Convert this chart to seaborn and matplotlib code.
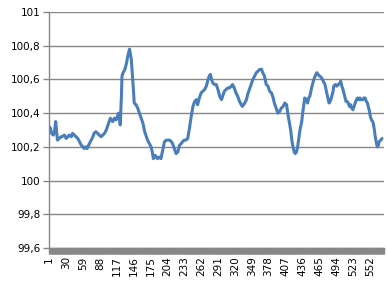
import matplotlib
matplotlib.use("Agg")
import matplotlib.pyplot as plt
import seaborn as sns
import pandas as pd

# category index (1-based) and value
idx = [1, 3, 5, 8, 10, 12, 14, 15, 18, 21, 23, 27, 30, 33, 35, 39, 41, 44, 47, 50,
       53, 56, 59, 61, 64, 66, 70, 73, 76, 78, 81, 84, 87, 90, 93, 96, 99, 101, 104, 106,
       108, 110, 113, 116, 118, 120, 122, 123, 125, 126, 128, 131, 134, 136, 139, 140, 142, 144, 146, 147,
       150, 153, 156, 159, 162, 165, 167, 170, 173, 176, 178, 180, 183, 185, 187, 190, 193, 196, 199, 202,
       205, 208, 211, 213, 216, 219, 222, 225, 228, 230, 233, 236, 239, 242, 245, 248, 251, 254, 256, 259,
       262, 265, 268, 271, 274, 276, 278, 280, 282, 285, 288, 291, 294, 297, 299, 302, 305, 308, 311, 314,
       316, 319, 322, 325, 328, 331, 333, 337, 340, 342, 345, 348, 351, 354, 357, 360, 363, 366, 368, 371,
       374, 377, 380, 383, 386, 388, 391, 394, 397, 400, 403, 406, 409, 411, 414, 416, 418, 420, 422, 424,
       426, 428, 430, 432, 435, 437, 439, 440, 443, 445, 447, 449, 452, 455, 458, 461, 463, 466, 469, 472,
       475, 478, 480, 482, 484, 486, 489, 490, 493, 495, 498, 501, 502, 504, 506, 509, 511, 513, 515, 517,
       519, 521, 523, 525, 527, 529, 531, 533, 535, 537, 540, 542, 544, 546, 548, 550, 551, 553, 555, 557,
       558, 560, 561, 563, 565, 567, 568, 571, 573]
val = [100.32, 100.31, 100.28, 100.27, 100.29, 100.35, 100.28, 100.24, 100.25, 100.26, 100.26, 100.27, 100.25, 100.26, 100.27, 100.26, 100.28, 100.27, 100.26, 100.25,
       100.23, 100.21, 100.20, 100.19, 100.20, 100.19, 100.22, 100.24, 100.26, 100.28, 100.29, 100.28, 100.27, 100.26, 100.27, 100.28, 100.30, 100.32, 100.35, 100.37,
       100.36, 100.35, 100.37, 100.36, 100.38, 100.40, 100.36, 100.33, 100.50, 100.62, 100.64, 100.66, 100.70, 100.74, 100.78, 100.76, 100.72, 100.62, 100.52, 100.46,
       100.45, 100.43, 100.40, 100.37, 100.34, 100.29, 100.27, 100.24, 100.22, 100.20, 100.17, 100.13, 100.15, 100.14, 100.13, 100.14, 100.13, 100.18, 100.23, 100.24,
       100.24, 100.24, 100.23, 100.22, 100.19, 100.16, 100.17, 100.21, 100.22, 100.23, 100.24, 100.24, 100.25, 100.31, 100.38, 100.44, 100.47, 100.48, 100.45, 100.49,
       100.52, 100.53, 100.54, 100.56, 100.60, 100.62, 100.63, 100.60, 100.58, 100.57, 100.57, 100.54, 100.50, 100.48, 100.50, 100.53, 100.54, 100.55, 100.55, 100.56,
       100.57, 100.55, 100.52, 100.50, 100.47, 100.45, 100.44, 100.46, 100.48, 100.51, 100.54, 100.57, 100.60, 100.62, 100.64, 100.65, 100.66, 100.66, 100.64, 100.62,
       100.57, 100.56, 100.53, 100.52, 100.49, 100.46, 100.43, 100.40, 100.41, 100.43, 100.44, 100.46, 100.45, 100.40, 100.34, 100.30, 100.24, 100.20, 100.17, 100.16,
       100.17, 100.20, 100.25, 100.30, 100.35, 100.41, 100.46, 100.49, 100.48, 100.46, 100.49, 100.50, 100.55, 100.59, 100.62, 100.64, 100.63, 100.62, 100.61, 100.59,
       100.57, 100.52, 100.49, 100.46, 100.47, 100.49, 100.53, 100.56, 100.57, 100.56, 100.57, 100.58, 100.59, 100.56, 100.54, 100.50, 100.47, 100.47, 100.46, 100.44,
       100.45, 100.43, 100.42, 100.44, 100.46, 100.48, 100.49, 100.48, 100.49, 100.48, 100.48, 100.49, 100.49, 100.47, 100.46, 100.43, 100.42, 100.38, 100.36, 100.35,
       100.34, 100.30, 100.27, 100.23, 100.20, 100.21, 100.23, 100.24, 100.25]

n_categories = 576
x_tick_labels = ["1", "30", "59", "88", "117", "146", "175", "204", "233", "262", "291",
                 "320", "349", "378", "407", "436", "465", "494", "523", "552"]
y_ticks = [99.6, 99.8, 100.0, 100.2, 100.4, 100.6, 100.8, 101.0]
y_tick_labels = ["99,6", "99,8", "100", "100,2", "100,4", "100,6", "100,8", "101"]

sns.set_theme(style="white")
plt.rcParams['font.family'] = ['DejaVu Sans']

grey = "#878787"
fig = plt.figure(figsize=(3.88, 2.83), dpi=100)
ax = fig.add_axes([49 / 388, 35 / 283, 335 / 388, 236 / 283])

df = pd.DataFrame({"idx": idx, "val": val})
sns.lineplot(data=df, x="idx", y="val", ax=ax, color="#4a7ebb", linewidth=2.2)

ax.set_xlim(0.5, n_categories + 0.5)
ax.set_ylim(99.6, 101.0)
ax.set_yticks(y_ticks)
ax.set_yticklabels(y_tick_labels, fontsize=7.5, color="#000000")
ax.yaxis.grid(True, color=grey, linewidth=1.0)
ax.set_axisbelow(True)

ax.set_xticks([int(s) for s in x_tick_labels])
ax.set_xticklabels(x_tick_labels, rotation=90, fontsize=7.5, color="#000000")
ax.set_xticks(list(range(1, n_categories + 1)), minor=True)
ax.tick_params(axis="x", which="both", length=4, width=1, color=grey, direction="out", pad=2, bottom=True)
ax.tick_params(axis="y", length=4, width=1, color=grey, direction="out", pad=2, left=True)

ax.set_xlabel("")
ax.set_ylabel("")
for s in ["top", "right"]:
    ax.spines[s].set_visible(False)
for s in ["left", "bottom"]:
    ax.spines[s].set_color(grey)
    ax.spines[s].set_linewidth(1.0)

fig.savefig("out.png", dpi=100)
